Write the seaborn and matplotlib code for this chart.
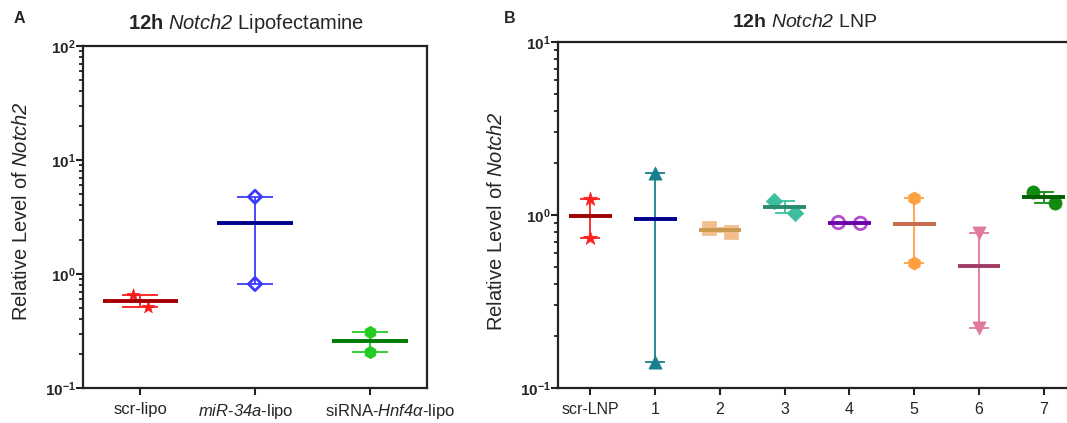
import numpy as np
import pandas as pd
import matplotlib
matplotlib.use("Agg")
import matplotlib.pyplot as plt
import matplotlib.transforms as mtransforms
import seaborn as sns

# values (relative Notch2 level, two replicates each)
lipo_groups = ["scr-lipo", "miR-34a-lipo", "siRNA-Hnf4a-lipo"]
lipo_labels = ["scr-lipo", r"$\mathsf{miR\text{-}34a}$-lipo", r"siRNA-$\mathsf{Hnf4α}$-lipo"]
lipo_rep1 = [0.654, 4.76, 0.308]
lipo_rep2 = [0.517, 0.817, 0.208]

lnp_groups = ["scr-LNP", "1", "2", "3", "4", "5", "6", "7"]
lnp_rep1 = [1.237, 1.75, 0.841, 1.21, 0.905, 1.249, 0.787, 1.364]
lnp_rep2 = [0.733, 0.141, 0.794, 1.027, 0.895, 0.526, 0.221, 1.169]

# styling
lipo_colors = ["#ff1a1a", "#3b3bff", "#22cc22"]
lipo_mean_colors = ["#a50000", "#00008b", "#007a00"]
lipo_markers = ["*", "D", "h"]
lipo_open = [False, True, False]
lipo_msize = [90, 45, 80]
lipo_jitter = [(-0.06, 0.07), (0, 0), (0, 0)]
lipo_label_shift = [0, -9, 20]  # px, as in the original layout

lnp_colors = ["#ff2020", "#17808f", "#f2be8c", "#3dbf9f", "#b44fd0", "#ffa040", "#e07a98", "#118c11"]
lnp_mean_colors = ["#a00000", "#00008b", "#c99a4e", "#2a8a6e", "#6c00a8", "#c8684a", "#a03c64", "#006000"]
lnp_markers = ["*", "^", "s", "D", "o", "h", "v", "o"]
lnp_open = [False, False, False, False, True, False, False, False]
lnp_msize = [110, 90, 90, 70, 80, 90, 90, 90]
lnp_jitter = [(0, 0), (0, 0), (-0.17, 0.17), (-0.17, 0.16), (-0.17, 0.17), (0, 0), (0, 0), (-0.165, 0.17)]

sns.set_style("ticks")
plt.rcParams["font.family"] = ["Liberation Sans", "DejaVu Sans"]
plt.rcParams["mathtext.fontset"] = "custom"
plt.rcParams["mathtext.rm"] = "Liberation Sans"
plt.rcParams["mathtext.it"] = "Liberation Sans:italic"
plt.rcParams["mathtext.sf"] = "Liberation Sans:italic"
plt.rcParams["mathtext.bf"] = "Liberation Sans:bold"
plt.rcParams["mathtext.default"] = "regular"


def draw_panel(ax, groups, rep1, rep2, colors, mean_colors, markers, opens, sizes, jitter,
               mean_w, cap_w):
    df = pd.DataFrame({
        "group": np.repeat(groups, 2),
        "value": np.ravel(np.column_stack([rep1, rep2])),
    })
    df["pos"] = df["group"].map({g: i for i, g in enumerate(groups)}).astype(float)
    df["pos"] += np.ravel(jitter)
    stats = df.groupby("group", sort=False)["value"].agg(["mean", "sem"])

    for i, g in enumerate(groups):
        sub = df[df["group"] == g]
        if opens[i]:
            sns.scatterplot(data=sub, x="pos", y="value", ax=ax, marker=markers[i], s=sizes[i],
                            facecolor="none", edgecolor=colors[i], linewidth=2, zorder=3)
        else:
            sns.scatterplot(data=sub, x="pos", y="value", ax=ax, marker=markers[i], s=sizes[i],
                            color=colors[i], edgecolor=colors[i], linewidth=0.5, zorder=3)
        m, e = stats.loc[g, "mean"], stats.loc[g, "sem"]
        ax.errorbar(i, m, yerr=e, color=colors[i], lw=1.3, capsize=cap_w, capthick=1.3, zorder=4)
        ax.hlines(m, i - mean_w / 2, i + mean_w / 2, color=mean_colors[i], lw=2.8, zorder=5)


fig = plt.figure(figsize=(10.67, 4.23), dpi=100)
axA = fig.add_axes([0.0778, 0.0827, 0.3224, 0.8085])
axB = fig.add_axes([0.523, 0.0827, 0.4855, 0.818])

draw_panel(axA, lipo_groups, lipo_rep1, lipo_rep2, lipo_colors, lipo_mean_colors,
           lipo_markers, lipo_open, lipo_msize, lipo_jitter, 0.66, 13)
draw_panel(axB, lnp_groups, lnp_rep1, lnp_rep2, lnp_colors, lnp_mean_colors,
           lnp_markers, lnp_open, lnp_msize, lnp_jitter, 0.66, 7.5)

for ax, ylim, labels, fs in [(axA, (0.1, 100), lipo_labels, 12), (axB, (0.1, 10), lnp_groups, 11.5)]:
    ax.set_yscale("log")
    ax.set_ylim(*ylim)
    ax.set_xlim(-0.5, len(labels) - 0.5)
    ax.set_xticks(range(len(labels)))
    ax.set_xticklabels(labels, fontsize=fs)
    decades = np.arange(int(np.log10(ylim[0])), int(np.log10(ylim[1])) + 1)
    ax.set_yticks(10.0 ** decades)
    ax.set_yticklabels([r"$\mathbf{10^{%d}}$" % d for d in decades], fontsize=11)
    ax.yaxis.set_minor_locator(matplotlib.ticker.LogLocator(subs=np.arange(2, 10)))
    ax.yaxis.set_minor_formatter(matplotlib.ticker.NullFormatter())
    ax.tick_params(axis="y", which="major", length=5, width=1.5, pad=0, color="#222222")
    ax.tick_params(axis="y", which="minor", length=3, width=1.3, color="#222222")
    ax.tick_params(axis="x", length=5, width=1.5, pad=5, color="#222222")
    for sp in ax.spines.values():
        sp.set_linewidth(1.6)
        sp.set_color("#222222")
    ax.set_xlabel("")
    ax.set_ylabel(r"Relative Level of $\mathsf{Notch2}$", fontsize=14.5)

for lab, dx in zip(axA.get_xticklabels(), lipo_label_shift):
    lab.set_transform(lab.get_transform() + mtransforms.Affine2D().translate(dx, 0))

axA.yaxis.set_label_coords(-0.151, 0.518)
axB.yaxis.set_label_coords(-0.100, 0.483)

axA.set_title(r"$\mathbf{12h}$ $\mathsf{Notch2}$ Lipofectamine", fontsize=14.5, x=0.475, pad=12)
axB.set_title(r"$\mathbf{12h}$ $\mathsf{Notch2}$ LNP", fontsize=14, x=0.475, pad=11)

fig.text(0.0178, 0.957, "A", fontsize=11.5, fontweight="bold", ha="center", va="center")
fig.text(0.478, 0.957, "B", fontsize=11.5, fontweight="bold", ha="center", va="center")

fig.savefig("out.png", dpi=100)
